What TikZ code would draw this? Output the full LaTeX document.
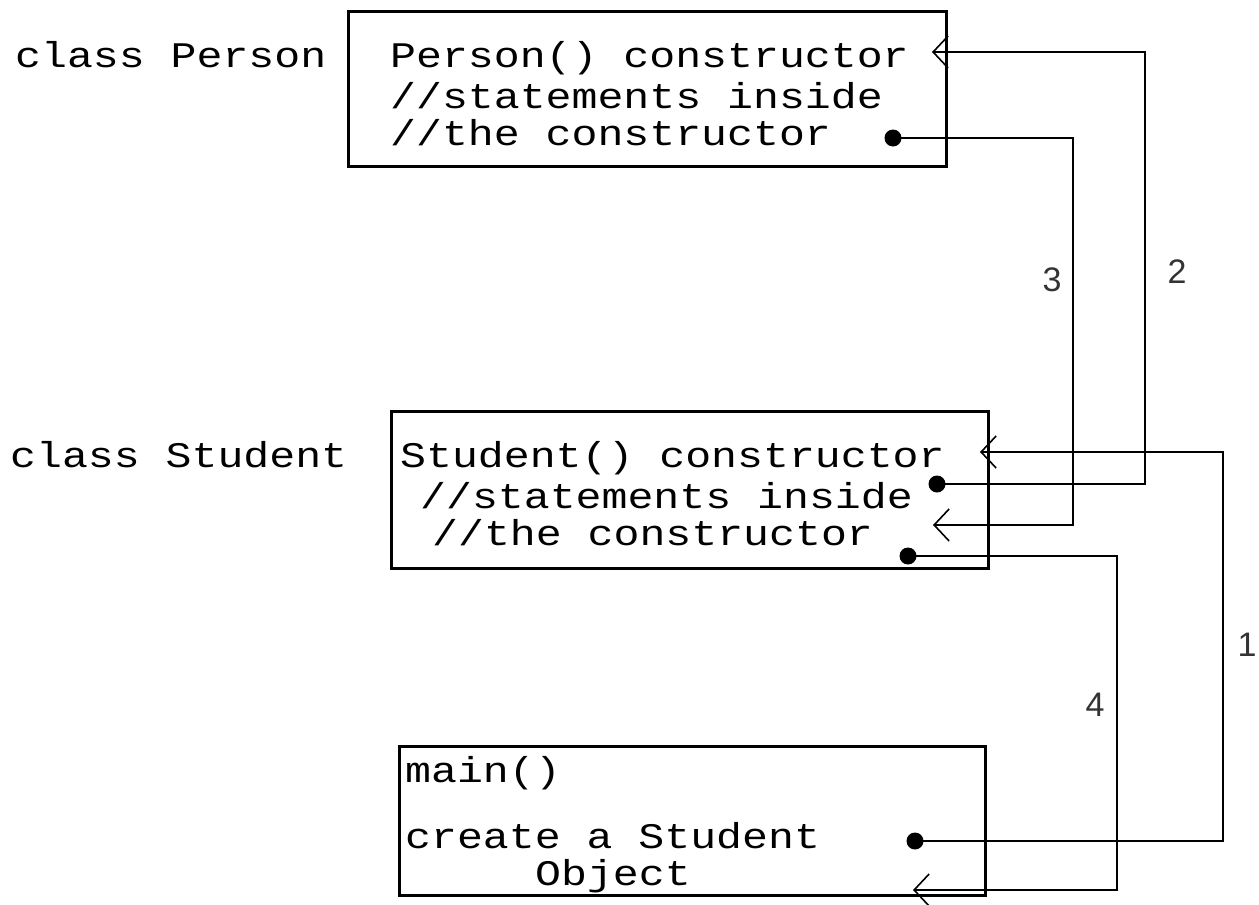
\documentclass[tikz,border=0pt]{standalone}
\usepackage{fontspec}
\usetikzlibrary{arrows.meta}
\newfontfamily\codefont[FakeStretch=1.2]{Liberation Mono}
\newfontfamily\numfont{Liberation Sans}
\begin{document}
\begin{tikzpicture}[x=1pt,y=-1pt,
  box/.style={draw,line width=2.5pt,anchor=north west,inner sep=0pt},
  code/.style={anchor=base west,inner sep=0pt,font=\codefont\fontsize{36}{36}\selectfont},
  num/.style={inner sep=0pt,font=\numfont\fontsize{34}{34}\selectfont,text=black!80},
  conn/.style={line width=2.2pt},
  call/.style={conn,-{Straight Barb[length=15pt,width=32pt,line width=1.6pt]}},
  dot/.style={circle,fill=black,inner sep=0pt,minimum size=17pt}]
\useasboundingbox[fill=white] (0,0) rectangle (1259,905);

% boxes
\node[box,minimum width=598pt,minimum height=155pt] (person) at (347,10) {};
\node[box,minimum width=597pt,minimum height=157pt] (student) at (390,410) {};
\node[box,minimum width=586pt,minimum height=149pt] (mainbox) at (398,745) {};

% labels
\node[code] (lp) at (15,67) {class Person};
\node[code] (ls) at (10,467) {class Student};

% Person text
\node[code] (p1) at (390,67) {Person() constructor};
\node[code] (p2) at (390,108) {//statements inside};
\node[code] (p3) at (390,145) {//the constructor};

% Student text
\node[code] (s1) at (400,467) {Student() constructor};
\node[code] (s2) at (420,508) {//statements inside};
\node[code] (s3) at (432,545) {//the constructor};

% main text
\node[code] (m1) at (405,782) {main()};
\node[code] (m2) at (405,848) {create a Student};
\node[code] (m3) at (535,885) {Object};

% dots and arrow tips
\node[dot] (pdot) at (893,138) {};
\node[dot] (sdot2) at (937,484) {};
\node[dot] (sdot4) at (908,556) {};
\node[dot] (mdot) at (915,841) {};
\coordinate (parr) at (932,52);
\coordinate (sarr1) at (980,452);
\coordinate (sarr3) at (933,525);
\coordinate (marr) at (913,890);
\coordinate (r1) at (1223,0);
\coordinate (r2) at (1145,0);
\coordinate (r3) at (1073,0);
\coordinate (r4) at (1117,0);

% connectors
\draw[call] (mdot.center) -- (mdot.center -| r1) -- (sarr1 -| r1) -- (sarr1);
\draw[call] (sdot2.center) -- (sdot2.center -| r2) -- (parr -| r2) -- (parr);
\draw[call] (pdot.center) -- (pdot.center -| r3) -- (sarr3 -| r3) -- (sarr3);
\draw[call] (sdot4.center) -- (sdot4.center -| r4) -- (marr -| r4) -- (marr);

% numbers
\node[num] (n1) at (1247,645) {1};
\node[num] (n2) at (1177,272) {2};
\node[num] (n3) at (1052,280) {3};
\node[num] (n4) at (1095,705) {4};
\end{tikzpicture}
\end{document}
